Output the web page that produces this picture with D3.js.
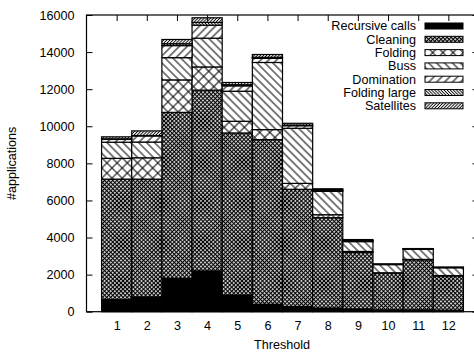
<!DOCTYPE html>
<html>
<head>
<meta charset="utf-8">
<script src="https://cdn.jsdelivr.net/npm/d3@7"></script>
<style>
  body { margin: 0; background: #fff; }
  text { font-family: "Liberation Sans", Arial, sans-serif; fill: #000; }
</style>
</head>
<body>
<div id="chart"></div>
<script>
// Données
const thresholds = [1, 2, 3, 4, 5, 6, 7, 8, 9, 10, 11, 12];
const seriesNames = ["Recursive calls", "Cleaning", "Folding", "Buss", "Domination", "Folding large", "Satellites"];
const recursiveCalls = [650, 800, 1800, 2200, 900, 400, 280, 200, 150, 100, 100, 80];
const cleaning = [6500, 6350, 8950, 9750, 8740, 8880, 6320, 4870, 3050, 1980, 2700, 1850];
const folding = [1120, 1150, 1750, 1250, 630, 540, 320, 160, 50, 20, 20, 20];
const buss = [870, 850, 1200, 1550, 1620, 3620, 2970, 1260, 530, 440, 550, 420];
const domination = [150, 330, 650, 700, 290, 220, 140, 60, 50, 15, 15, 15];
const foldingLarge = [30, 20, 100, 150, 60, 60, 30, 20, 10, 5, 5, 5];
const satellites = [110, 250, 230, 250, 120, 150, 100, 60, 50, 15, 15, 15];
const yTicks = [0, 2000, 4000, 6000, 8000, 10000, 12000, 14000, 16000];

const seriesValues = [recursiveCalls, cleaning, folding, buss, domination, foldingLarge, satellites];
const patternIds = ["p-rec", "p-clean", "p-fold", "p-buss", "p-dom", "p-foldl", "p-sat"];

const width = 474;
const height = 353;
const margin = { top: 15, right: -4.5, bottom: 41.3, left: 86.5 };
const fontSize = 12.6;

const table = thresholds.map((t, i) => {
    const row = { threshold: t };
    seriesNames.forEach((s, k) => { row[s] = seriesValues[k][i]; });
    return row;
});
const stacked = d3.stack().keys(seriesNames)(table);

const svg = d3.select("#chart")
    .append("svg")
    .attr("width", width)
    .attr("height", height);

// Motifs de remplissage
const defs = svg.append("defs");
function hatch(id, spacing, angle, sw) {
    const p = defs.append("pattern")
        .attr("id", id)
        .attr("patternUnits", "userSpaceOnUse")
        .attr("width", spacing)
        .attr("height", spacing)
        .attr("patternTransform", `rotate(${angle})`);
    p.append("rect").attr("width", spacing).attr("height", spacing).attr("fill", "#fff");
    p.append("line")
        .attr("x1", spacing / 2).attr("y1", 0)
        .attr("x2", spacing / 2).attr("y2", spacing)
        .attr("stroke", "#000").attr("stroke-width", sw);
}
function cross(id, spacing, sw) {
    const p = defs.append("pattern")
        .attr("id", id)
        .attr("patternUnits", "userSpaceOnUse")
        .attr("width", spacing)
        .attr("height", spacing)
        .attr("patternTransform", "rotate(45)");
    p.append("rect").attr("width", spacing).attr("height", spacing).attr("fill", "#fff");
    p.append("line").attr("x1", spacing / 2).attr("y1", 0).attr("x2", spacing / 2).attr("y2", spacing)
        .attr("stroke", "#000").attr("stroke-width", sw);
    p.append("line").attr("x1", 0).attr("y1", spacing / 2).attr("x2", spacing).attr("y2", spacing / 2)
        .attr("stroke", "#000").attr("stroke-width", sw);
}
defs.append("pattern").attr("id", "p-rec").attr("patternUnits", "userSpaceOnUse")
    .attr("width", 4).attr("height", 4)
    .append("rect").attr("width", 4).attr("height", 4).attr("fill", "#000");
cross("p-clean", 2.9, 1.2);
cross("p-fold", 7.2, 1);
hatch("p-buss", 5.6, -45, 1);
hatch("p-dom", 5.6, 45, 1);
hatch("p-foldl", 2.2, -45, 0.9);
hatch("p-sat", 2.2, 45, 0.9);

const x = d3.scaleLinear()
    .domain([0, 13])
    .range([margin.left, width - margin.right]);

const y = d3.scaleLinear()
    .domain([0, 16000])
    .range([height - margin.bottom, margin.top]);

// Barres empilées
svg.append("g")
    .selectAll("g")
    .data(stacked)
    .enter().append("g")
    .attr("fill", (d, k) => `url(#${patternIds[k]})`)
    .selectAll("rect")
    .data(d => d)
    .enter().append("rect")
    .attr("x", d => x(d.data.threshold - 0.5))
    .attr("y", d => y(d[1]))
    .attr("width", d => x(d.data.threshold + 0.5) - x(d.data.threshold - 0.5))
    .attr("height", d => y(d[0]) - y(d[1]))
    .attr("stroke", "#000")
    .attr("stroke-width", 1.2);

// Axes
const yAxis = d3.axisLeft(y).tickValues(yTicks).tickFormat(d3.format("d"))
    .tickSizeInner(-6).tickSizeOuter(0).tickPadding(12);
svg.append("g")
    .attr("transform", `translate(${margin.left},0)`)
    .call(yAxis)
    .call(g => g.select(".domain").remove())
    .call(g => g.selectAll("text").attr("font-size", fontSize));

svg.append("g")
    .attr("transform", `translate(${width - margin.right},0)`)
    .call(d3.axisRight(y).tickValues(yTicks).tickSizeInner(-6).tickSizeOuter(0).tickFormat(""))
    .call(g => g.select(".domain").remove());

const xAxis = d3.axisBottom(x).tickValues(thresholds).tickSize(0).tickPadding(9);
svg.append("g")
    .attr("transform", `translate(0,${height - margin.bottom})`)
    .call(xAxis)
    .call(g => g.select(".domain").remove())
    .call(g => g.selectAll("text").attr("font-size", fontSize));

svg.append("g")
    .attr("transform", `translate(0,${margin.top})`)
    .call(d3.axisTop(x).tickValues(thresholds).tickSizeInner(-6).tickSizeOuter(0).tickFormat(""))
    .call(g => g.select(".domain").remove());

// Cadre
svg.append("rect")
    .attr("x", margin.left)
    .attr("y", margin.top)
    .attr("width", width - margin.right - margin.left)
    .attr("height", height - margin.bottom - margin.top)
    .attr("fill", "none")
    .attr("stroke", "#000")
    .attr("stroke-width", 1.2);

// Titres des axes
svg.append("text")
    .attr("x", 282)
    .attr("y", 349)
    .attr("text-anchor", "middle")
    .attr("font-size", fontSize)
    .text("Threshold");

svg.append("text")
    .attr("transform", `translate(16,${(margin.top + height - margin.bottom) / 2}) rotate(-90)`)
    .attr("text-anchor", "middle")
    .attr("font-size", fontSize)
    .text("#applications");

// Légende
const legend = svg.append("g")
    .selectAll("g")
    .data(seriesNames)
    .enter().append("g")
    .attr("transform", (d, k) => `translate(0,${26 + k * 13.3})`);

legend.append("text")
    .attr("x", 416)
    .attr("dy", "0.35em")
    .attr("text-anchor", "end")
    .attr("font-size", fontSize)
    .text(d => d);

legend.append("rect")
    .attr("x", 425)
    .attr("y", -3)
    .attr("width", 38)
    .attr("height", 6)
    .attr("fill", (d, k) => `url(#${patternIds[k]})`)
    .attr("stroke", "#000")
    .attr("stroke-width", 1);
</script>
</body>
</html>
